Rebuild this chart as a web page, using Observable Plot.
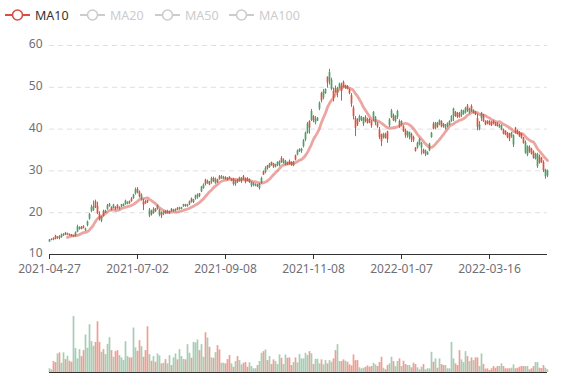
<!DOCTYPE html>
<html>
<head>
<meta charset="utf-8">
<script src="https://cdn.jsdelivr.net/npm/d3@7"></script>
<script src="https://cdn.jsdelivr.net/npm/@observablehq/plot@0.6"></script>
<style>
  html, body { margin: 0; padding: 0; background: #fff; }
  #chart { position: relative; width: 577px; height: 380px; font-family: "Noto Sans", sans-serif; overflow: hidden; }
  #legend { position: absolute; left: 0; top: 0; height: 30px; width: 577px; z-index: 2; }
  .li { position: absolute; top: 6px; height: 18px; display: flex; align-items: center; font-size: 12.5px; }
  .li svg { margin-right: 5px; }
</style>
</head>
<body>
<div id="chart"><div id="legend"></div></div>
<script>
// ---- data (index = trading-day position on the category axis) ----
const opens = [
13.5,13.6,13.5,13.6,14.2,13.9,14.7,14.8,14.6,15.0,
14.5,14.4,14.5,15.2,16.6,16.5,16.0,16.3,16.1,17.8,
19.6,21.3,21.5,21.2,19.8,18.4,19.0,19.2,20.4,21.7,
22.0,20.6,21.8,20.7,21.0,21.2,21.9,22.0,22.8,22.5,
22.2,22.7,24.2,25.5,24.8,23.8,24.2,21.8,22.1,22.4,
20.6,19.5,20.8,20.2,21.6,20.6,19.2,20.1,19.8,20.4,
20.3,20.3,20.6,20.8,20.6,21.1,21.2,21.9,21.5,21.8,
22.6,22.5,23.1,24.0,24.3,23.9,26.1,26.6,26.8,27.5,
26.6,28.2,27.4,28.0,27.2,27.9,28.6,28.5,27.9,27.8,
28.0,28.0,26.8,27.6,27.2,28.3,28.2,27.9,27.3,27.5,
27.9,27.2,27.0,26.7,26.2,26.8,28.2,29.0,30.6,30.5,
31.6,31.3,30.9,31.5,32.0,32.2,32.0,32.6,32.3,31.5,
31.5,31.3,32.1,32.6,34.8,35.1,35.2,37.2,39.0,41.2,
40.2,44.2,42.0,42.4,42.6,46.2,46.8,48.9,49.5,51.0,
53.5,51.7,47.5,48.8,49.7,50.8,49.0,50.0,50.3,49.5,
48.5,46.0,43.0,40.2,41.0,43.0,42.8,42.5,41.8,41.4,
41.5,40.8,44.0,42.8,40.5,38.0,37.0,38.8,37.8,37.5,
42.2,44.3,42.0,43.0,44.2,40.6,41.8,39.4,38.4,39.3,
39.2,37.6,37.2,34.7,36.6,37.5,36.6,34.2,34.8,34.4,
36.4,39.0,40.0,41.4,40.4,42.0,40.5,40.6,41.0,41.3,
41.8,43.0,44.8,43.0,42.8,42.8,44.4,44.3,45.0,44.3,
44.8,44.2,44.5,43.4,40.5,41.0,43.8,41.8,41.0,41.2,
41.0,40.8,41.2,40.7,40.6,40.9,40.8,38.8,38.6,38.0,
37.6,39.0,38.4,39.2,38.8,38.2,37.8,36.6,36.8,35.8,
34.5,34.0,33.0,34.0,34.0,31.8,32.0,30.0,30.2,30.0
];
const closes = [
13.0,13.4,13.8,14.4,13.8,14.3,14.0,14.5,15.1,14.7,
14.8,14.7,14.2,14.3,15.3,16.0,16.5,16.7,15.7,16.9,
18.5,20.3,20.6,22.6,21.5,19.6,18.0,20.3,19.9,20.8,
21.5,21.3,21.0,21.3,21.8,20.8,21.4,21.5,21.9,22.0,
22.6,23.3,23.4,24.5,25.6,24.9,23.0,22.6,22.6,22.9,
19.2,20.3,19.8,20.9,20.9,19.4,20.0,19.5,20.3,19.9,
19.9,20.8,20.2,20.4,21.1,20.8,20.8,21.4,21.9,21.5,
21.9,23.3,22.4,23.3,23.6,24.5,25.0,25.8,27.8,26.9,
27.4,27.3,28.2,27.0,27.8,28.6,28.1,28.0,28.4,28.2,
28.5,27.5,27.9,26.7,27.8,27.5,27.5,28.6,28.1,28.1,
27.2,26.4,26.5,26.3,26.6,25.8,27.0,29.8,29.6,31.2,
30.8,32.0,31.7,30.9,31.2,31.4,33.0,31.8,31.4,32.0,
32.3,32.0,31.2,33.6,33.8,34.6,34.6,35.8,37.4,39.0,
41.8,42.0,43.0,41.5,41.9,44.8,48.5,47.5,48.5,52.4,
51.5,49.5,49.0,49.8,48.6,49.8,50.5,51.2,49.7,50.2,
49.3,48.0,45.0,42.5,42.2,42.0,42.0,41.2,42.8,42.3,
42.3,41.8,42.5,41.4,41.3,39.8,38.6,37.8,38.7,39.3,
40.8,42.8,43.2,41.8,42.8,41.8,41.0,40.6,39.6,38.4,
38.0,38.8,38.0,35.4,35.5,36.3,35.5,35.0,33.9,33.8,
34.8,38.0,41.2,40.2,41.4,41.0,41.8,41.2,40.2,40.6,
41.0,41.8,43.0,44.0,43.8,43.6,43.2,43.5,43.8,45.5,
43.8,45.4,43.8,44.0,42.5,39.8,42.5,43.2,41.8,41.9,
41.8,41.6,41.8,41.4,41.3,40.3,39.8,39.8,39.5,39.0,
38.8,38.2,36.2,40.2,39.6,39.2,38.8,37.8,34.2,33.8,
35.6,35.2,34.5,32.8,31.0,33.4,33.0,32.0,28.6,28.8
];
const lows = [
12.9,13.3,13.3,13.5,13.6,13.5,13.9,14.3,14.5,14.5,
14.4,14.2,14.1,14.2,15.2,15.8,15.9,16.1,15.5,16.6,
18.2,20.0,20.3,21.0,19.5,18.0,17.6,19.0,19.8,20.6,
21.3,20.4,20.9,20.5,20.8,20.6,21.2,21.4,21.8,21.9,
22.0,22.5,23.2,24.2,24.5,23.5,22.8,20.5,22.0,22.2,
18.8,19.2,19.6,20.0,20.6,19.0,18.6,19.3,19.6,19.7,
19.6,20.1,20.1,20.2,20.5,20.6,20.7,21.3,21.3,21.3,
21.7,22.3,22.2,23.0,23.2,23.6,24.8,25.6,26.4,26.8,
26.5,26.8,27.2,26.8,27.0,27.8,28.0,27.9,27.8,27.6,
27.9,27.4,26.4,26.3,27.0,27.3,27.0,27.7,26.9,27.4,
27.0,26.0,26.2,26.2,26.0,25.4,26.8,28.9,29.3,30.2,
30.6,31.1,30.6,30.7,31.0,31.0,31.8,31.6,31.2,31.3,
31.4,31.1,31.0,32.4,33.6,34.4,34.2,35.5,37.0,38.8,
38.8,41.8,41.5,41.0,41.8,44.4,46.3,47.0,48.3,49.8,
50.5,49.2,46.5,48.6,47.5,49.6,46.7,49.8,49.5,49.4,
48.2,45.2,42.2,38.2,40.6,41.6,41.8,40.6,41.5,41.2,
41.3,40.2,41.8,40.8,40.2,37.5,35.8,37.6,37.6,36.6,
40.4,42.5,41.8,41.5,42.3,40.2,40.7,39.2,37.8,37.8,
37.4,36.8,36.8,34.5,35.2,36.0,33.8,34.0,33.4,33.7,
34.6,37.8,39.8,39.8,40.2,40.8,40.3,40.2,39.8,40.3,
40.8,41.6,41.8,42.8,42.5,42.6,42.8,43.3,43.6,44.0,
43.6,44.0,43.6,43.2,39.6,39.6,41.8,41.6,40.8,41.0,
40.8,40.6,41.0,40.6,40.5,40.2,39.6,38.6,38.4,37.7,
37.0,37.8,35.6,38.8,38.6,38.0,37.6,36.4,34.0,33.4,
34.2,33.8,32.8,32.6,30.6,31.6,31.8,29.6,28.0,28.4
];
const highs = [
13.6,13.8,14.0,14.6,14.3,14.5,14.9,15.0,15.3,15.1,
14.9,14.8,14.6,15.4,17.0,16.6,16.7,16.9,16.3,18.0,
19.8,21.8,22.8,23.0,22.5,20.2,19.2,20.6,20.6,22.0,
22.2,21.4,22.0,21.4,21.9,21.4,22.0,22.1,23.0,22.6,
22.8,23.6,24.4,25.9,26.0,25.2,24.5,23.2,22.9,23.0,
21.0,20.6,21.2,21.0,21.8,20.8,20.2,20.4,20.5,20.6,
20.4,21.0,20.8,20.9,21.2,21.3,21.3,22.0,22.0,22.0,
22.8,23.5,23.2,24.2,24.5,24.6,26.3,26.9,28.0,27.8,
27.5,28.5,28.5,28.3,28.0,28.9,28.9,28.7,28.6,28.4,
28.6,28.1,28.2,27.8,27.9,28.5,28.4,28.9,28.3,28.4,
28.1,27.4,27.2,26.9,26.8,27.0,28.5,30.0,31.0,31.3,
31.8,32.1,31.8,31.6,32.2,32.4,33.4,32.9,32.5,32.1,
32.6,32.2,32.3,33.8,35.0,35.3,35.4,37.5,39.3,41.6,
42.0,44.7,43.2,43.0,42.8,46.5,48.8,49.5,49.6,52.5,
54.3,52.2,49.8,50.3,50.0,51.0,51.0,51.5,50.5,50.4,
49.6,48.5,45.5,43.0,42.5,43.3,43.0,42.8,43.2,42.6,
42.5,42.0,44.2,43.0,41.6,40.4,38.8,39.0,39.0,39.5,
42.5,44.7,43.6,43.2,44.5,42.2,42.0,40.8,40.0,39.5,
39.3,39.0,38.3,35.6,36.9,37.8,36.8,35.2,35.0,34.6,
36.6,39.2,41.6,41.6,41.6,42.2,42.0,41.3,41.1,41.5,
42.0,43.2,45.0,44.2,44.0,44.0,44.6,44.5,45.2,45.9,
45.0,45.8,44.6,44.2,43.6,41.8,44.0,43.5,42.0,42.0,
42.0,41.8,42.0,41.6,41.5,41.2,41.0,40.0,39.6,39.2,
39.0,39.2,38.6,40.4,39.8,39.4,39.0,38.0,37.2,36.0,
36.0,35.4,34.8,34.2,34.2,33.8,33.2,32.4,30.4,30.2
];
const volumes = [
3.7,2.7,11,10,18.7,19.7,9.3,19.7,13,16.3,
11.3,10.3,56.3,24,13.7,23,16,22,37.7,24.3,
48,31,26.3,30.3,51,30.3,20.3,23,18,28.3,
35,22,15.3,21,22,17,14.7,12,31,16,
14.7,14.7,44.7,24.7,21.3,32,26,15.3,22,46,
18,11.3,16,10.3,18.7,16.7,8.7,9.3,13,8.7,
17,7,14.7,18.7,12.7,23,16,13,12.7,28,
19.3,14.3,30.3,29.7,32.7,22,28,15.3,40,34.7,
25.3,14.7,14.3,20,27,22.7,9.3,9.3,8.7,13,
17,8.7,5.3,11,16,12,7.7,9.3,10,5.3,
9.7,6,3.7,3.7,7,11,19.3,21,22.7,12,
16,8,12.7,11,8,17.7,14.3,8,17.7,14.3,
14.7,7,10,14.7,9.7,18,13.7,13.7,19.3,17,
21,18.7,8,13.3,13.3,8.7,12.7,7.7,12,8.7,
12,10.3,13.7,22,28,11,11,12.7,11.3,10.3,
7.7,6.7,17.7,12,12,4.7,3.7,4.3,5.3,6.7,
5.3,6,9.3,7.7,6,10,15.3,4.3,2.7,7,
8.7,15.3,11,6,11,13.7,6,11.3,8,7,
7,4.7,9.3,8,4.7,2.7,5.3,8,2.7,3.7,
3.7,20.3,10.3,13.7,4.3,13.7,8,7,7,3.7,
3.7,30.3,13.7,8.7,7,22,12.7,10,21,16,
11,14.7,12,14.7,14.7,6,18.7,8,3.3,3.7,
2,3.7,6,4.3,6,6,8.7,6,3.7,3.7,
3.7,4.3,7.7,3.7,4.3,5.3,6,6,6,6,
2.7,3.7,6,10,10,4.3,4,7,4.3,2.7
];
const tickIdx = [0, 44, 88, 132, 176, 220];
const tickLabels = ["2021-04-27", "2021-07-02", "2021-09-08", "2021-11-08", "2022-01-07", "2022-03-16"];
const series = ["MA10", "MA20", "MA50", "MA100"];

// ---- styling ----
const UP = "#e0503c", DOWN = "#4f9d69", MA = "#d94e43";
const rows = opens.map((o, i) => ({i, o, c: closes[i], l: lows[i], h: highs[i], v: volumes[i], up: closes[i] > opens[i]}));
const ups = rows.filter(d => d.up), downs = rows.filter(d => !d.up);
const xDomain = [0, rows.length - 1];

const main = Plot.plot({
  width: 577, height: 280,
  marginLeft: 49, marginRight: 30, marginTop: 45, marginBottom: 26,
  style: {color: "#6e7079", fontFamily: "Noto Sans, sans-serif", fontSize: "12px", background: "transparent"},
  x: {type: "linear", domain: xDomain, axis: null},
  y: {domain: [10, 60], axis: null},
  marks: [
    Plot.ruleY([20, 30, 40, 50, 60], {stroke: "#e0e0e0", strokeDasharray: "5,4"}),
    Plot.axisY({ticks: [10, 20, 30, 40, 50, 60], tickSize: 0, tickPadding: 7, fontSize: 12, label: null, dy: -1}),
    Plot.ruleX(ups, {x: "i", y1: "l", y2: "h", stroke: UP, strokeWidth: 1}),
    Plot.ruleX(downs, {x: "i", y1: "l", y2: "h", stroke: DOWN, strokeWidth: 1}),
    Plot.ruleX(ups, {x: "i", y1: "o", y2: "c", stroke: UP, strokeWidth: 1.7}),
    Plot.ruleX(downs, {x: "i", y1: "o", y2: "c", stroke: DOWN, strokeWidth: 1.7}),
    Plot.lineY(rows, Plot.windowY({k: 10, anchor: "end", strict: true, reduce: "mean"},
      {x: "i", y: "c", stroke: MA, strokeOpacity: 0.5, strokeWidth: 2.8, curve: "catmull-rom"})),
    Plot.ruleY([10], {stroke: "#333", strokeWidth: 1}),
    Plot.axisX({ticks: tickIdx, tickFormat: v => tickLabels[tickIdx.indexOf(v)], tickSize: 5, tickPadding: 5,
      stroke: "#333", fontSize: 12, label: null})
  ]
});

const vol = Plot.plot({
  width: 577, height: 80,
  marginLeft: 49, marginRight: 30, marginTop: 16, marginBottom: 8,
  style: {background: "transparent"},
  x: {type: "linear", domain: xDomain, axis: null},
  y: {domain: [0, d3.max(volumes)], axis: null},
  marks: [
    Plot.ruleX(ups, {x: "i", y1: 0, y2: "v", stroke: UP, strokeOpacity: 0.55, strokeWidth: 1.7}),
    Plot.ruleX(downs, {x: "i", y1: 0, y2: "v", stroke: DOWN, strokeOpacity: 0.5, strokeWidth: 1.7}),
    Plot.ruleY([0], {stroke: "#333", strokeWidth: 1.2})
  ]
});

for (const [el, top] of [[main, 0], [vol, 300]]) {
  el.style.position = "absolute";
  el.style.left = "0px";
  el.style.top = top + "px";
}

const chart = document.getElementById("chart");
chart.appendChild(main);
chart.appendChild(vol);

// ---- legend ----
const legend = document.getElementById("legend");
const lx = [5, 80, 155, 229];
series.forEach((name, k) => {
  const active = k === 0;
  const col = active ? MA : "#ccc";
  const item = document.createElement("div");
  item.className = "li";
  item.style.left = lx[k] + "px";
  item.style.color = active ? "#333" : "#ccc";
  item.innerHTML = `<svg width="25" height="14"><line x1="0" y1="7" x2="25" y2="7" stroke="${col}" stroke-width="2"/><circle cx="12.5" cy="7" r="5" fill="#fff" stroke="${col}" stroke-width="1.6"/></svg><span>${name}</span>`;
  legend.appendChild(item);
});
</script>
</body>
</html>
